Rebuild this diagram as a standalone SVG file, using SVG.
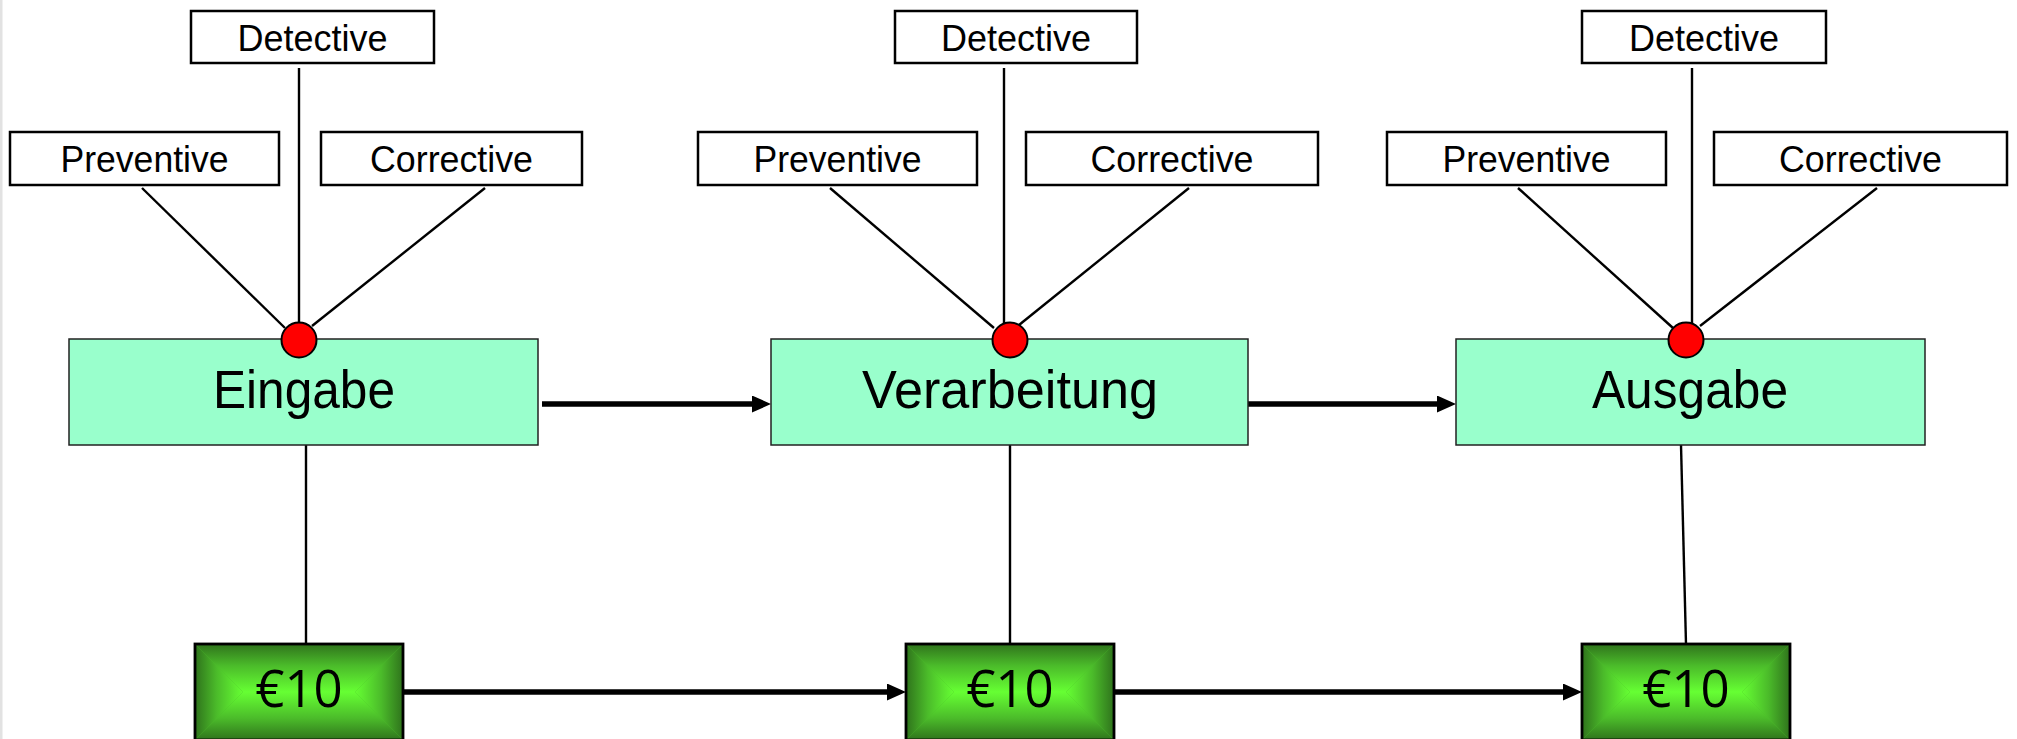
<svg xmlns="http://www.w3.org/2000/svg" xmlns:xlink="http://www.w3.org/1999/xlink" width="2017" height="739" viewBox="0 0 2017 739">
<style>
.lbl{fill:#fff;stroke:#000;stroke-width:2.5}
.lt{font-family:"Liberation Sans",Arial,sans-serif;font-size:37px;fill:#000;text-anchor:middle}
.proc{fill:#99ffcc;stroke:#222;stroke-width:1.5}
.pt{font-family:"Liberation Sans",Arial,sans-serif;font-size:53px;fill:#000;text-anchor:middle}
.mt{font-family:"Open Sans","Noto Sans",sans-serif;font-size:51px;fill:#000;text-anchor:middle}
.dot{fill:#ff0000;stroke:#000;stroke-width:2}
.thin{stroke:#000;stroke-width:2.4;fill:none}
.thick{stroke:#000;stroke-width:5.5;fill:none;marker-end:url(#ah)}
.mb{fill:none;stroke:#000;stroke-width:2.8}
</style>
<defs>
<marker id="ah" markerUnits="userSpaceOnUse" markerWidth="20" markerHeight="18" refX="9" refY="8.5" orient="auto" viewBox="0 0 20 18">
<path d="M0,0 L19,8.5 L0,17 z" fill="#000"/>
</marker>
<linearGradient id="gT" x1="0" y1="0" x2="0" y2="1"><stop offset="0" stop-color="#2f731c"/><stop offset="0.45" stop-color="#4bbb2a"/><stop offset="1" stop-color="#66ff33"/></linearGradient>
<linearGradient id="gB" x1="0" y1="1" x2="0" y2="0"><stop offset="0" stop-color="#2f731c"/><stop offset="0.45" stop-color="#4bbb2a"/><stop offset="1" stop-color="#66ff33"/></linearGradient>
<linearGradient id="gL" x1="0" y1="0" x2="1" y2="0"><stop offset="0" stop-color="#2f731c"/><stop offset="0.45" stop-color="#4bbb2a"/><stop offset="1" stop-color="#66ff33"/></linearGradient>
<linearGradient id="gR" x1="1" y1="0" x2="0" y2="0"><stop offset="0" stop-color="#2f731c"/><stop offset="0.45" stop-color="#4bbb2a"/><stop offset="1" stop-color="#66ff33"/></linearGradient>
<g id="money">
<rect x="0" y="0" width="208" height="96" fill="#4bbb2a"/>
<polygon points="0,0 208,0 160,48 48,48" fill="url(#gT)"/>
<polygon points="0,96 208,96 160,48 48,48" fill="url(#gB)"/>
<polygon points="0,0 48,48 0,96" fill="url(#gL)"/>
<polygon points="208,0 160,48 208,96" fill="url(#gR)"/>
<rect x="0" y="0" width="208" height="96" class="mb"/>
</g>
</defs>
<rect x="0" y="0" width="2017" height="739" fill="#ffffff"/>
<rect x="0" y="0" width="2.5" height="739" fill="#e2e2e2"/>

<g id="connectors">
<line class="thin" x1="299" y1="68" x2="299" y2="323"/>
<line class="thin" x1="142" y1="188" x2="285" y2="328"/>
<line class="thin" x1="485" y1="188" x2="312" y2="326"/>
<line class="thin" x1="1004" y1="68" x2="1004" y2="323"/>
<line class="thin" x1="830" y1="188" x2="994" y2="328"/>
<line class="thin" x1="1189" y1="188" x2="1019" y2="325"/>
<line class="thin" x1="1692" y1="68" x2="1692" y2="323"/>
<line class="thin" x1="1518" y1="188" x2="1673" y2="328"/>
<line class="thin" x1="1877" y1="188" x2="1700" y2="326"/>
<line class="thin" x1="306" y1="445" x2="306" y2="644"/>
<line class="thin" x1="1010" y1="445" x2="1010" y2="644"/>
<line class="thin" x1="1681" y1="445" x2="1686" y2="644"/>
<line class="thick" x1="542" y1="404" x2="761" y2="404"/>
<line class="thick" x1="1248" y1="404" x2="1446" y2="404"/>
<line class="thick" x1="403" y1="692" x2="896" y2="692"/>
<line class="thick" x1="1114" y1="692" x2="1572" y2="692"/>
</g>

<g id="det1"><rect class="lbl" x="191" y="11" width="243" height="52"/><text class="lt" x="312.5" y="51" textLength="150" lengthAdjust="spacingAndGlyphs">Detective</text></g>
<g id="prev1"><rect class="lbl" x="10" y="132" width="269" height="53"/><text class="lt" x="144.5" y="172" textLength="168" lengthAdjust="spacingAndGlyphs">Preventive</text></g>
<g id="corr1"><rect class="lbl" x="321" y="132" width="261" height="53"/><text class="lt" x="451.5" y="172" textLength="163" lengthAdjust="spacingAndGlyphs">Corrective</text></g>

<g id="det2"><rect class="lbl" x="895" y="11" width="242" height="52"/><text class="lt" x="1016" y="51" textLength="150" lengthAdjust="spacingAndGlyphs">Detective</text></g>
<g id="prev2"><rect class="lbl" x="698" y="132" width="279" height="53"/><text class="lt" x="837.5" y="172" textLength="168" lengthAdjust="spacingAndGlyphs">Preventive</text></g>
<g id="corr2"><rect class="lbl" x="1026" y="132" width="292" height="53"/><text class="lt" x="1172" y="172" textLength="163" lengthAdjust="spacingAndGlyphs">Corrective</text></g>

<g id="det3"><rect class="lbl" x="1582" y="11" width="244" height="52"/><text class="lt" x="1704" y="51" textLength="150" lengthAdjust="spacingAndGlyphs">Detective</text></g>
<g id="prev3"><rect class="lbl" x="1387" y="132" width="279" height="53"/><text class="lt" x="1526.5" y="172" textLength="168" lengthAdjust="spacingAndGlyphs">Preventive</text></g>
<g id="corr3"><rect class="lbl" x="1714" y="132" width="293" height="53"/><text class="lt" x="1860.5" y="172" textLength="163" lengthAdjust="spacingAndGlyphs">Corrective</text></g>

<g id="eingabe"><rect class="proc" x="69" y="339" width="469" height="106"/><text class="pt" x="304" y="408" textLength="182" lengthAdjust="spacingAndGlyphs">Eingabe</text></g>
<g id="verarbeitung"><rect class="proc" x="771" y="339" width="477" height="106"/><text class="pt" x="1010" y="408" textLength="296" lengthAdjust="spacingAndGlyphs">Verarbeitung</text></g>
<g id="ausgabe"><rect class="proc" x="1456" y="339" width="469" height="106"/><text class="pt" x="1690" y="408" textLength="196" lengthAdjust="spacingAndGlyphs">Ausgabe</text></g>

<g id="dot1"><circle class="dot" cx="299" cy="340" r="17.5"/></g>
<g id="dot2"><circle class="dot" cx="1010" cy="340" r="17.5"/></g>
<g id="dot3"><circle class="dot" cx="1686" cy="340" r="17.5"/></g>

<g id="money1"><use xlink:href="#money" x="195" y="644"/><text class="mt" x="299" y="707">€10</text></g>
<g id="money2"><use xlink:href="#money" x="906" y="644"/><text class="mt" x="1010" y="707">€10</text></g>
<g id="money3"><use xlink:href="#money" x="1582" y="644"/><text class="mt" x="1686" y="707">€10</text></g>
</svg>
